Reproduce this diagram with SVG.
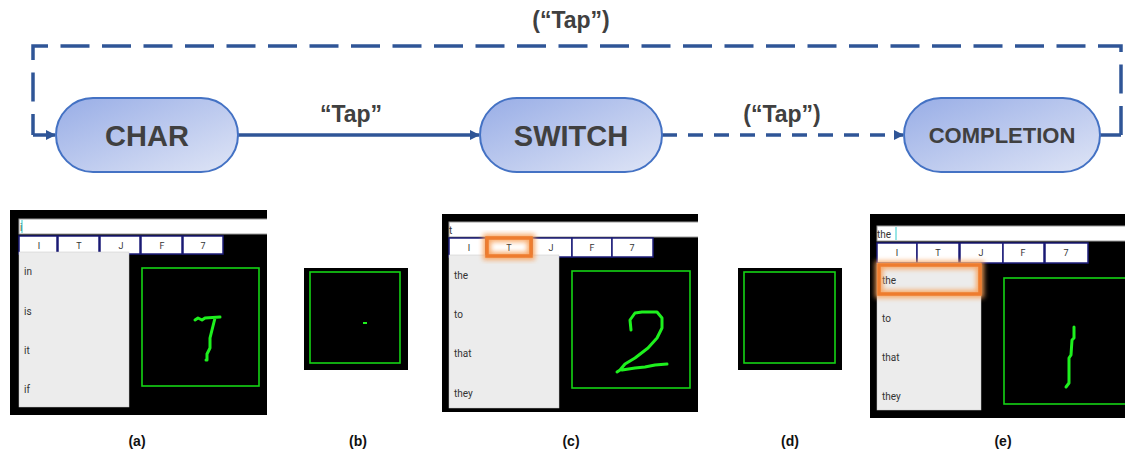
<svg xmlns="http://www.w3.org/2000/svg" width="1125" height="453" viewBox="0 0 1125 453">
  <style>
    .node-shape { stroke: #4472c4; stroke-width: 2; fill: url(#nodeFill); }
    .node-text { font-family: "Liberation Sans", Arial, sans-serif; font-weight: bold; fill: #404040; text-anchor: middle; }
    .edge-label { font-family: "Liberation Sans", Arial, sans-serif; font-weight: bold; font-size: 23px; fill: #404040; text-anchor: middle; }
    .edge { fill: none; stroke: #2f5597; stroke-width: 3.5; }
    .dash-long { stroke-dasharray: 29 12.5; }
    .dash-short { stroke-dasharray: 15 11; }
    .screen { fill: #000; }
    .field { fill: #fff; stroke: #9a9a9a; stroke-width: 1; }
    .cell { fill: #fff; stroke: #1c1c7a; stroke-width: 1.5; }
    .cell-text { font-family: Roboto, "Liberation Sans", sans-serif; font-size: 9px; fill: #333; text-anchor: middle; }
    .list { fill: #ececec; stroke: #c8c8c8; stroke-width: 0.5; }
    .item { font-family: Roboto, "Liberation Sans", sans-serif; font-size: 10px; fill: #333; }
    .pad { fill: none; stroke: #14d414; stroke-width: 1.6; }
    .ink { fill: none; stroke: #1ef01e; stroke-width: 3; stroke-linecap: round; stroke-linejoin: round; }
    .glow { fill: none; stroke: #f7a15c; stroke-width: 8; filter: url(#soft); opacity: 0.9; }
    .hl { fill: none; stroke: #ee7c2e; stroke-width: 3.5; }
    .caption { font-family: "Liberation Sans", Arial, sans-serif; font-weight: bold; font-size: 14px; fill: #111; text-anchor: middle; }
  </style>
  <defs>
    <linearGradient id="nodeFill" x1="0" y1="0" x2="1" y2="1">
      <stop offset="0" stop-color="#98ade6"/>
      <stop offset="1" stop-color="#dfe5f6"/>
    </linearGradient>
    <marker id="arrow" viewBox="0 0 10 10" refX="9" refY="5" markerWidth="10" markerHeight="10" markerUnits="userSpaceOnUse" orient="auto">
      <path d="M0,0 L10,5 L0,10 z" fill="#2f5597"/>
    </marker>
    <filter id="soft" x="-20%" y="-40%" width="140%" height="180%">
      <feGaussianBlur stdDeviation="2.5"/>
    </filter>
    <clipPath id="clipA"><rect x="10" y="210" width="257" height="205"/></clipPath>
    <clipPath id="clipC"><rect x="442" y="214" width="256" height="198"/></clipPath>
    <clipPath id="clipE"><rect x="870" y="214" width="255" height="204"/></clipPath>
  </defs>

  <!-- state machine connectors -->
  <g id="connectors">
    <line class="edge" x1="238" y1="135" x2="479" y2="135" marker-end="url(#arrow)"/>
    <line class="edge dash-short" x1="662" y1="135" x2="903" y2="135" marker-end="url(#arrow)"/>
    <path class="edge" d="M1100,135 H1121"/>
    <path class="edge dash-long" d="M1121,135 V46 H33 V135"/>
    <line class="edge" x1="33" y1="135" x2="55" y2="135" marker-end="url(#arrow)"/>
    <text class="edge-label" x="351" y="122">“Tap”</text>
    <text class="edge-label" x="782" y="122">(“Tap”)</text>
    <text class="edge-label" x="571" y="28">(“Tap”)</text>
  </g>

  <g id="node-char">
    <rect class="node-shape" x="56" y="98" width="182" height="74" rx="37"/>
    <text class="node-text" x="147" y="146" font-size="29">CHAR</text>
  </g>
  <g id="node-switch">
    <rect class="node-shape" x="480" y="98" width="182" height="74" rx="37"/>
    <text class="node-text" x="571" y="146" font-size="29">SWITCH</text>
  </g>
  <g id="node-completion">
    <rect class="node-shape" x="904" y="98" width="196" height="74" rx="37"/>
    <text class="node-text" x="1002" y="143" font-size="22">COMPLETION</text>
  </g>

  <!-- (a) writing a character -->
  <g id="screen-a" clip-path="url(#clipA)">
    <rect class="screen" x="10" y="210" width="257" height="205"/>
    <rect class="field" x="19" y="219" width="252" height="15"/>
    <text class="item" x="20" y="231" font-size="11">i</text>
    <line x1="22" y1="220" x2="22" y2="233" stroke="#3cc" stroke-width="1"/>
    <rect class="cell" x="19" y="236" width="38" height="18"/>
    <rect class="cell" x="58" y="236" width="41" height="18"/>
    <rect class="cell" x="100" y="236" width="40" height="18"/>
    <rect class="cell" x="141" y="236" width="41" height="18"/>
    <rect class="cell" x="183" y="236" width="40" height="18"/>
    <text class="cell-text" x="39" y="249">I</text>
    <text class="cell-text" x="79" y="249">T</text>
    <text class="cell-text" x="121" y="249">J</text>
    <text class="cell-text" x="162" y="249">F</text>
    <text class="cell-text" x="203" y="249">7</text>
    <rect class="list" x="19" y="252" width="110" height="155"/>
    <text class="item" x="24" y="275">in</text>
    <text class="item" x="24" y="315">is</text>
    <text class="item" x="24" y="354">it</text>
    <text class="item" x="24" y="393">if</text>
    <rect class="pad" x="142" y="268" width="117" height="118"/>
    <path class="ink" d="M195,320 L198,318 L202,320 L205,318 L220,317 M215,318 L211,334 L210,338 L210,348 L207,354 L207,360 L206,360"/>
  </g>

  <!-- (b) a single tap -->
  <g id="screen-b">
    <rect class="screen" x="304" y="268" width="104" height="102"/>
    <rect class="pad" x="310" y="272" width="90" height="91"/>
    <rect x="363" y="322" width="4" height="2" fill="#1ef01e"/>
  </g>

  <!-- (c) candidate selected -->
  <g id="screen-c" clip-path="url(#clipC)">
    <rect class="screen" x="442" y="214" width="256" height="198"/>
    <rect class="field" x="449" y="222" width="252" height="15"/>
    <text class="item" x="449" y="234" font-size="11">t</text>
    <rect class="cell" x="449" y="238" width="37" height="19"/>
    <rect class="cell" x="486" y="238" width="46" height="19"/>
    <rect class="cell" x="532" y="238" width="40" height="19"/>
    <rect class="cell" x="572" y="238" width="40" height="19"/>
    <rect class="cell" x="612" y="238" width="41" height="19"/>
    <text class="cell-text" x="469" y="251">I</text>
    <text class="cell-text" x="509" y="251">T</text>
    <text class="cell-text" x="551" y="251">J</text>
    <text class="cell-text" x="592" y="251">F</text>
    <text class="cell-text" x="632" y="251">7</text>
    <rect class="list" x="449" y="255" width="110" height="153"/>
    <text class="item" x="454" y="279">the</text>
    <text class="item" x="454" y="318">to</text>
    <text class="item" x="454" y="357">that</text>
    <text class="item" x="454" y="397">they</text>
    <rect class="glow" x="487" y="238" width="44" height="18"/>
    <rect class="hl" x="487" y="238" width="44" height="18"/>
    <rect class="pad" x="572" y="271" width="118" height="117"/>
    <path class="ink" d="M631,330 L630,320 L635,313 L642,312 L657,312 L662,318 L662,328 L657,338 L648,348 L635,358 L625,364 L620,370 L617,372 M622,370 L635,368 L645,367 L655,365 L667,364"/>
  </g>

  <!-- (d) empty pad -->
  <g id="screen-d">
    <rect class="screen" x="738" y="268" width="104" height="102"/>
    <rect class="pad" x="744" y="272" width="91" height="91"/>
  </g>

  <!-- (e) completion selected -->
  <g id="screen-e" clip-path="url(#clipE)">
    <rect class="screen" x="870" y="214" width="255" height="204"/>
    <rect class="field" x="877" y="226" width="250" height="15"/>
    <text class="item" x="877" y="238" font-size="11">the</text>
    <line x1="896" y1="227" x2="896" y2="240" stroke="#3cc" stroke-width="1"/>
    <rect class="cell" x="877" y="243" width="40" height="20"/>
    <rect class="cell" x="917" y="243" width="42" height="20"/>
    <rect class="cell" x="960" y="243" width="43" height="20"/>
    <rect class="cell" x="1003" y="243" width="41" height="20"/>
    <rect class="cell" x="1045" y="243" width="43" height="20"/>
    <text class="cell-text" x="897" y="256">I</text>
    <text class="cell-text" x="938" y="256">T</text>
    <text class="cell-text" x="981" y="256">J</text>
    <text class="cell-text" x="1023" y="256">F</text>
    <text class="cell-text" x="1066" y="256">7</text>
    <rect class="list" x="877" y="263" width="104" height="147"/>
    <text class="item" x="882" y="284">the</text>
    <text class="item" x="882" y="322">to</text>
    <text class="item" x="882" y="361">that</text>
    <text class="item" x="882" y="400">they</text>
    <rect class="glow" x="879" y="265" width="101" height="29"/>
    <rect class="hl" x="879" y="265" width="101" height="29"/>
    <rect class="pad" x="1004" y="278" width="124" height="126"/>
    <path class="ink" d="M1074,327 L1074,338 L1072,340 L1071,355 L1069,358 L1069,383 L1066,387"/>
  </g>

  <g id="captions">
    <text class="caption" x="137" y="446">(a)</text>
    <text class="caption" x="358" y="446">(b)</text>
    <text class="caption" x="571" y="446">(c)</text>
    <text class="caption" x="790" y="446">(d)</text>
    <text class="caption" x="1003" y="446">(e)</text>
  </g>
</svg>
